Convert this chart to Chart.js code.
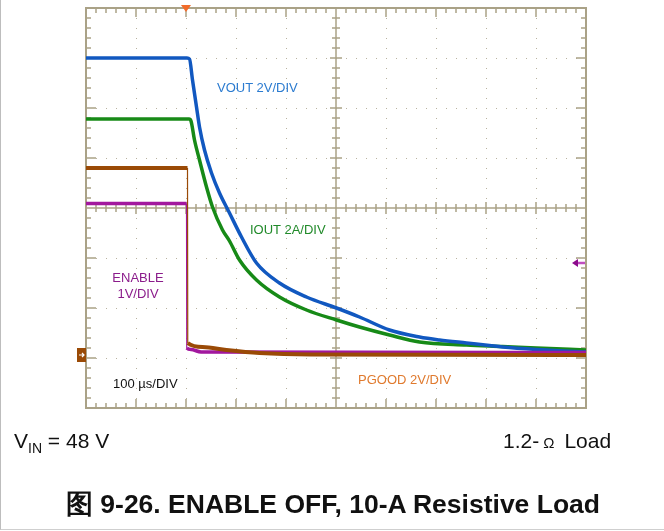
<!DOCTYPE html>
<html>
<head>
<meta charset="utf-8">
<script src="https://cdn.jsdelivr.net/npm/chart.js@4/dist/chart.umd.min.js"></script>
<style>
  body { margin: 0; background: #fff; font-family: "Liberation Sans", Arial, sans-serif; }
  #wrap { position: relative; width: 664px; height: 531px; overflow: hidden; }
  #frame { position: absolute; left: 0; top: -2px; width: 700px; height: 531px; border-left: 1px solid #bdbdbd; border-bottom: 1px solid #cfcfcf; }
  canvas { position: absolute; left: 0; top: 0; }
  .lbl { position: absolute; line-height: 1; white-space: nowrap; }
</style>
</head>
<body>
<div id="wrap">
  <div id="frame"></div>
  <canvas id="scope" width="664" height="531"></canvas>
  <div class="lbl" style="left:217px;top:81px;font-size:13px;color:#2b7bd0;">VOUT 2V/DIV</div>
  <div class="lbl" style="left:250px;top:223px;font-size:13px;color:#218a2a;">IOUT 2A/DIV</div>
  <div class="lbl" style="left:98px;width:80px;text-align:center;top:270px;font-size:13px;color:#8b1c8b;line-height:16px;">ENABLE<br>1V/DIV</div>
  <div class="lbl" style="left:113px;top:377px;font-size:13px;color:#111;">100 µs/DIV</div>
  <div class="lbl" style="left:358px;top:373px;font-size:13px;color:#e07a2e;">PGOOD 2V/DIV</div>
  <div class="lbl" style="left:14px;top:430px;font-size:21px;color:#111;">V<sub style="font-size:14px;vertical-align:-5px;">IN</sub> = 48 V</div>
  <div class="lbl" style="left:503px;top:430px;font-size:21px;color:#111;">1.2-<span style="font-size:15px;margin-left:4px;">Ω</span><span style="margin-left:10px;">Load</span></div>
  <div class="lbl" style="left:0;width:666px;text-align:center;top:491px;font-size:26.5px;font-weight:bold;color:#111;">图 9-26. ENABLE OFF, 10-A Resistive Load</div>
</div>
<script>
// time in divisions (100 us/div), levels in divisions from bottom of screen
const voutTime = [0, 2.02, 2.07, 2.13, 2.21, 2.27, 2.37, 2.51, 2.67, 2.87, 3.11, 3.41, 3.87, 4.41, 5.01, 5.47, 6.07, 6.67, 7.07, 7.61, 8.07, 8.33, 9.01, 10];
const voutDiv = [7.0, 7.0, 6.98, 6.56, 6.02, 5.62, 5.16, 4.70, 4.30, 3.90, 3.42, 2.90, 2.50, 2.22, 2.00, 1.82, 1.56, 1.42, 1.36, 1.30, 1.25, 1.22, 1.17, 1.12];

const ioutTime = [0, 2.06, 2.10, 2.17, 2.27, 2.41, 2.53, 2.73, 2.87, 3.07, 3.41, 3.87, 4.41, 5.01, 5.47, 6.07, 6.67, 7.61, 8.33, 9.01, 10];
const ioutDiv = [5.78, 5.78, 5.74, 5.36, 4.96, 4.42, 4.02, 3.56, 3.34, 2.96, 2.56, 2.22, 1.96, 1.76, 1.62, 1.46, 1.32, 1.26, 1.23, 1.20, 1.16];

const pgoodTime = [0, 2.03, 2.035, 2.33, 2.81, 3.47, 4.5, 10];
const pgoodDiv = [4.80, 4.80, 1.30, 1.22, 1.16, 1.10, 1.07, 1.06];

const enableTime = [0, 2.01, 2.015, 2.1, 2.3, 10];
const enableDiv = [4.09, 4.09, 1.20, 1.17, 1.12, 1.11];

const timeDivs = 10;
const levelDivs = 8;
const triggerTime = 2.0;
const triggerLevel = 2.9;
const pgoodGround = 1.06;

function pts(xs, ys) {
    return xs.map((v, i) => ({ x: v, y: ys[i] }));
}

const scopeGrid = {
    id: "scopeGrid",
    beforeDatasetsDraw(chart) {
        const ctx = chart.ctx;
        const x = chart.scales.x, y = chart.scales.y;
        const left = x.getPixelForValue(0), right = x.getPixelForValue(timeDivs);
        const top = y.getPixelForValue(levelDivs), bottom = y.getPixelForValue(0);
        const cx = x.getPixelForValue(timeDivs / 2), cy = y.getPixelForValue(levelDivs / 2);
        ctx.save();
        // dotted graticule
        ctx.fillStyle = "#b9b3a0";
        for (let i = 1; i < timeDivs; i++) {
            if (i === timeDivs / 2) continue;
            const px = Math.round(x.getPixelForValue(i));
            for (let j = 1; j < levelDivs * 5; j++) ctx.fillRect(px, Math.round(y.getPixelForValue(j / 5)), 1, 1);
        }
        for (let j = 1; j < levelDivs; j++) {
            if (j === levelDivs / 2) continue;
            const py = Math.round(y.getPixelForValue(j));
            for (let i = 1; i < timeDivs * 5; i++) ctx.fillRect(Math.round(x.getPixelForValue(i / 5)), py, 1, 1);
        }
        // centre cross with ticks
        ctx.strokeStyle = "#aaa287";
        ctx.lineWidth = 1.5;
        ctx.beginPath();
        ctx.moveTo(left, cy); ctx.lineTo(right, cy);
        ctx.moveTo(cx, top); ctx.lineTo(cx, bottom);
        for (let i = 1; i < timeDivs * 5; i++) {
            const px = x.getPixelForValue(i / 5);
            const len = i % 5 === 0 ? 6 : 4;
            ctx.moveTo(px, cy - len); ctx.lineTo(px, cy + len);
            ctx.moveTo(px, top); ctx.lineTo(px, top + (i % 5 === 0 ? 9 : 5));
            ctx.moveTo(px, bottom); ctx.lineTo(px, bottom - (i % 5 === 0 ? 9 : 5));
        }
        for (let j = 1; j < levelDivs * 5; j++) {
            const py = y.getPixelForValue(j / 5);
            const len = j % 5 === 0 ? 6 : 4;
            ctx.moveTo(cx - len, py); ctx.lineTo(cx + len, py);
            ctx.moveTo(left, py); ctx.lineTo(left + (j % 5 === 0 ? 10 : 5), py);
            ctx.moveTo(right, py); ctx.lineTo(right - (j % 5 === 0 ? 10 : 5), py);
        }
        ctx.stroke();
        // outer frame
        ctx.lineWidth = 2;
        ctx.strokeRect(left, top, right - left, bottom - top);
        ctx.restore();
    },
    afterDatasetsDraw(chart) {
        const ctx = chart.ctx;
        const x = chart.scales.x, y = chart.scales.y;
        const left = x.getPixelForValue(0), right = x.getPixelForValue(timeDivs);
        const top = y.getPixelForValue(levelDivs);
        ctx.save();
        // trigger position
        const tx = x.getPixelForValue(triggerTime);
        ctx.fillStyle = "#f26b2a";
        ctx.beginPath();
        ctx.moveTo(tx - 5, top - 3); ctx.lineTo(tx + 5, top - 3); ctx.lineTo(tx, top + 4); ctx.closePath();
        ctx.fill();
        // trigger level arrow
        const ty = y.getPixelForValue(triggerLevel);
        ctx.strokeStyle = "#c04ec0";
        ctx.lineWidth = 2.5;
        ctx.beginPath(); ctx.moveTo(right - 1, ty); ctx.lineTo(right - 10, ty); ctx.stroke();
        ctx.fillStyle = "#8c0a8c";
        ctx.beginPath(); ctx.moveTo(right - 14, ty); ctx.lineTo(right - 8, ty - 4); ctx.lineTo(right - 8, ty + 4); ctx.closePath(); ctx.fill();
        // PGOOD ground marker
        const gy = y.getPixelForValue(pgoodGround);
        ctx.fillStyle = "#9a4a06";
        ctx.fillRect(left - 9, gy - 7, 9, 14);
        ctx.strokeStyle = "#fff";
        ctx.lineWidth = 1.2;
        ctx.beginPath();
        ctx.moveTo(left - 7, gy); ctx.lineTo(left - 2, gy);
        ctx.moveTo(left - 4, gy - 2); ctx.lineTo(left - 2, gy); ctx.lineTo(left - 4, gy + 2);
        ctx.stroke();
        ctx.restore();
    }
};

function trace(label, xs, ys, color, width, order) {
    return {
        label: label,
        data: pts(xs, ys),
        borderColor: color,
        borderWidth: width,
        pointRadius: 0,
        cubicInterpolationMode: "monotone",
        fill: false,
        order: order,
        clip: 3,
        segment: {
            borderWidth: c => Math.abs(c.p1.parsed.x - c.p0.parsed.x) < 0.01 ? 1.2 : width,
        },
    };
}

new Chart(document.getElementById("scope"), {
    type: "line",
    data: {
        datasets: [
            trace("PGOOD", pgoodTime, pgoodDiv, "#9a4a06", 4, 0),
            trace("ENABLE", enableTime, enableDiv, "#a2189e", 3.5, 1),
            trace("VOUT", voutTime, voutDiv, "#1158c0", 3.5, 2),
            trace("IOUT", ioutTime, ioutDiv, "#178a17", 3.5, 3),
        ],
    },
    options: {
        responsive: false,
        animation: false,
        layout: { padding: { left: 86, right: 78, top: 8, bottom: 123 } },
        plugins: { legend: { display: false }, tooltip: { enabled: false } },
        scales: {
            x: { type: "linear", min: 0, max: timeDivs, display: false },
            y: { type: "linear", min: 0, max: levelDivs, display: false },
        },
    },
    plugins: [scopeGrid],
});
</script>
</body>
</html>
